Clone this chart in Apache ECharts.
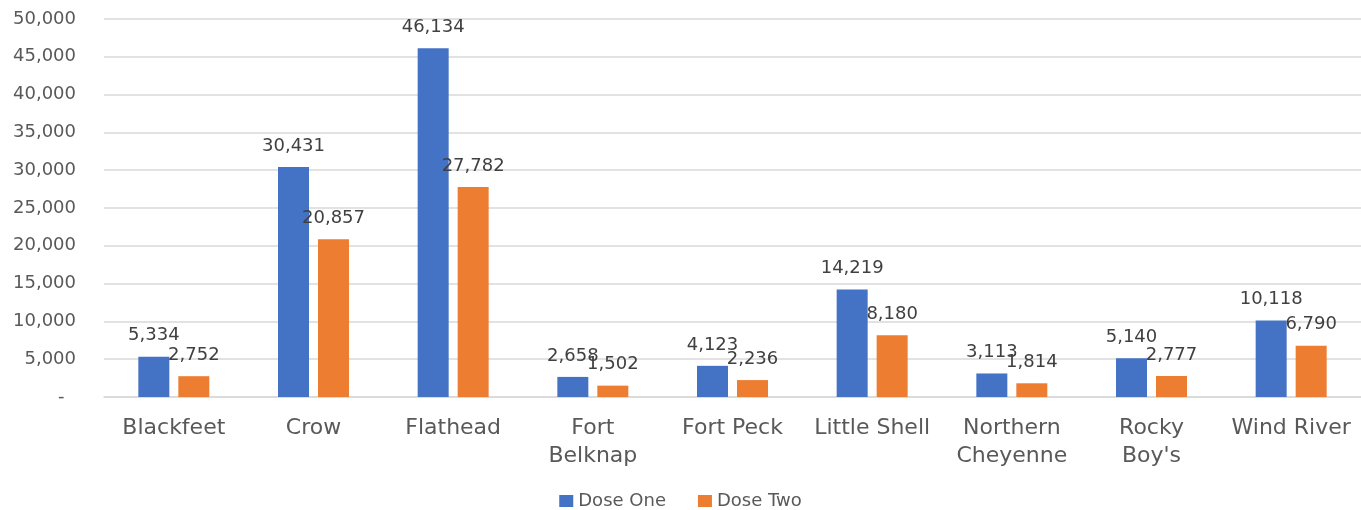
<!DOCTYPE html>
<html>
<head>
<meta charset="utf-8">
<title>Dose chart</title>
<style>
  html, body { margin: 0; padding: 0; background: #fff; }
  #main { width: 1361px; height: 510px; }
</style>
</head>
<body>
<div id="main"></div>
<script src="https://cdn.jsdelivr.net/npm/echarts@6/dist/echarts.min.js"></script>
<script>
var categories = ['Blackfeet', 'Crow', 'Flathead', 'Fort\nBelknap', 'Fort Peck', 'Little Shell', 'Northern\nCheyenne', 'Rocky\nBoy\'s', 'Wind River'];
var doseOne = [5334, 30431, 46134, 2658, 4123, 14219, 3113, 5140, 10118];
var doseTwo = [2752, 20857, 27782, 1502, 2236, 8180, 1814, 2777, 6790];

var font = '"DejaVu Sans", Verdana, sans-serif';

function fmt(v) {
    if (v === 0) return '-  ';
    return v.toString().replace(/\B(?=(\d{3})+(?!\d))/g, ',');
}

var labelStyle = {
    show: true,
    position: 'top',
    distance: 12,
    color: '#404040',
    fontSize: 18,
    fontFamily: font,
    formatter: function (p) { return fmt(p.value); }
};

var chart = echarts.init(document.getElementById('main'));
chart.setOption({
    animation: false,
    backgroundColor: '#fff',
    textStyle: { fontFamily: font },
    grid: { left: 104, right: 0, top: 19, bottom: 113, containLabel: false },
    legend: {
        bottom: 0,
        left: 'center',
        padding: 0,
        itemWidth: 14,
        itemHeight: 12,
        itemGap: 32,
        icon: 'rect',
        textStyle: { color: '#595959', fontSize: 18, fontFamily: font },
        data: ['Dose One', 'Dose Two']
    },
    xAxis: {
        type: 'category',
        data: categories,
        axisLine: { show: true, lineStyle: { color: '#d9d9d9', width: 1.5 } },
        axisTick: { show: false },
        axisLabel: {
            color: '#595959',
            fontSize: 22,
            fontFamily: font,
            margin: 17,
            lineHeight: 28,
            interval: 0
        }
    },
    yAxis: {
        type: 'value',
        min: 0,
        max: 50000,
        interval: 5000,
        axisLine: { show: false },
        axisTick: { show: false },
        splitLine: { lineStyle: { color: '#d9d9d9', width: 1.5 } },
        axisLabel: {
            color: '#595959',
            fontSize: 18,
            fontFamily: font,
            margin: 28,
            formatter: fmt
        }
    },
    series: [
        {
            name: 'Dose One',
            type: 'bar',
            data: doseOne,
            barWidth: 31,
            barGap: '29%',
            itemStyle: { color: '#4472C4' },
            label: labelStyle
        },
        {
            name: 'Dose Two',
            type: 'bar',
            data: doseTwo,
            barWidth: 31,
            itemStyle: { color: '#ED7D31' },
            label: labelStyle
        }
    ]
});
</script>
</body>
</html>
